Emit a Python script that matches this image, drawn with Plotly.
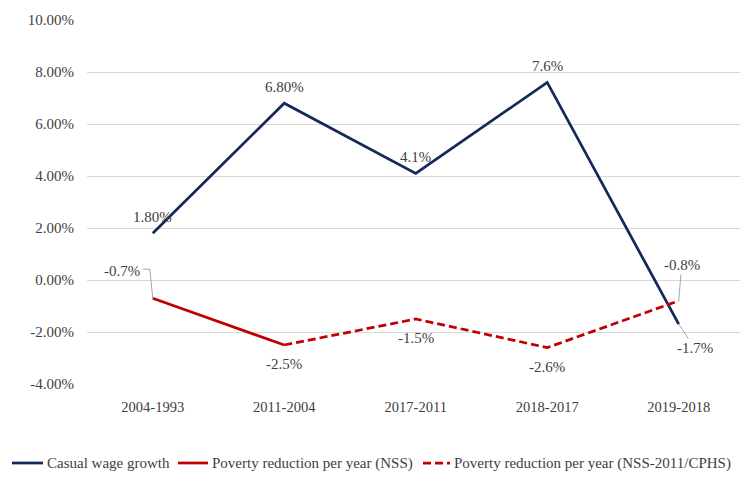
import plotly.graph_objects as go

# Periods compared on the horizontal axis
periods = ["2004-1993", "2011-2004", "2017-2011", "2018-2017", "2019-2018"]

# Annual rates, in percent
casual_wage_growth = [1.8, 6.8, 4.1, 7.6, -1.7]
wage_decimals = [2, 2, 1, 1, 1]
poverty_nss = [-0.7, -2.5, None, None, None]
poverty_cphs = [None, -2.5, -1.5, -2.6, -0.8]

series_names = ["Casual wage growth",
                "Poverty reduction per year (NSS)",
                "Poverty reduction per year (NSS-2011/CPHS)"]

y_ticks = [-4, -2, 0, 2, 4, 6, 8, 10]

NAVY = "#14285a"
RED = "#c00000"
TEXT = "#404040"
FONT = "Liberation Serif"
CPHS_DASH = "8px,4px"

W, H = 740, 500
ML, MR, MT, MB = 87, 0, 20, 116
PW, PH = W - ML - MR, H - MT - MB


def px_x(p):
    """Pixel column -> paper x."""
    return (p - ML) / PW


def px_y(p):
    """Pixel row -> paper y."""
    return (H - MB - p) / PH


fig = go.Figure()
fig.add_trace(go.Scatter(x=periods, y=casual_wage_growth, mode="lines",
                         name=series_names[0],
                         line=dict(color=NAVY, width=2.75)))
fig.add_trace(go.Scatter(x=periods, y=poverty_nss, mode="lines",
                         name=series_names[1],
                         line=dict(color=RED, width=2.75)))
fig.add_trace(go.Scatter(x=periods, y=poverty_cphs, mode="lines",
                         name=series_names[2],
                         line=dict(color=RED, width=2.75, dash=CPHS_DASH)))

lbl_font = dict(family=FONT, size=15, color=TEXT)
LEADER = "#a6a6a6"

# Wage-growth labels
for i, (p, v, d) in enumerate(zip(periods, casual_wage_growth, wage_decimals)):
    txt = f"{v:.{d}f}%"
    if i == len(periods) - 1:
        fig.add_annotation(x=p, y=v, text=txt, showarrow=True, arrowhead=0,
                           arrowwidth=1, arrowcolor=LEADER, ax=16, ay=24,
                           font=lbl_font)
    else:
        fig.add_annotation(x=p, y=v, text=txt, showarrow=False, yshift=16,
                           font=lbl_font)

# Poverty-reduction labels (the two series share the 2011-2004 point)
poverty_all = [a if a is not None else b for a, b in zip(poverty_nss, poverty_cphs)]
for i, (p, v) in enumerate(zip(periods, poverty_all)):
    txt = f"{v:.1f}%"
    if i == 0:
        # label up-left, joined to its point by an elbow leader
        fig.add_annotation(x=p, y=v, text=txt, showarrow=False,
                           xshift=-31, yshift=27, font=lbl_font)
        fig.add_shape(type="path", xref="x", yref="y",
                      xsizemode="pixel", ysizemode="pixel",
                      xanchor=p, yanchor=v,
                      path="M 0,0 L -3,29 L -10,29",
                      line=dict(color=LEADER, width=1))
    elif i == len(periods) - 1:
        fig.add_annotation(x=p, y=v, text=txt, showarrow=True, arrowhead=0,
                           arrowwidth=1, arrowcolor=LEADER, ax=3, ay=-36,
                           font=lbl_font)
    else:
        fig.add_annotation(x=p, y=v, text=txt, showarrow=False, yshift=-19,
                           font=lbl_font)

# Legend row along the bottom: key line + label for each series
legend_row = 463
legend_keys = [(12, 43, NAVY, "solid"), (178, 208, RED, "solid"),
               (423, 450, RED, CPHS_DASH)]
for (x0, x1, col, dash), name in zip(legend_keys, series_names):
    fig.add_shape(type="line", xref="paper", yref="paper",
                  x0=px_x(x0), x1=px_x(x1), y0=px_y(legend_row), y1=px_y(legend_row),
                  line=dict(color=col, width=2.75, dash=dash))
    fig.add_annotation(xref="paper", yref="paper", x=px_x(x1 + 2), y=px_y(legend_row),
                       xanchor="left", yanchor="middle", text=name,
                       showarrow=False, font=lbl_font)

fig.update_layout(
    width=W, height=H,
    margin=dict(l=ML, r=MR, t=MT, b=MB),
    paper_bgcolor="white", plot_bgcolor="white",
    font=dict(family=FONT, size=15, color=TEXT),
    showlegend=False,
    xaxis=dict(range=[-0.5, 4.466], showgrid=False, zeroline=False,
               showline=False, ticks="", tickfont=dict(size=14.5, color=TEXT),
               ticklabelstandoff=12, fixedrange=True),
    yaxis=dict(range=[-4, 10], tickvals=y_ticks,
               ticktext=[f"{t:.2f}%" for t in y_ticks],
               showgrid=True, gridcolor="#d9d9d9", gridwidth=1,
               zeroline=False, showline=False, ticks="",
               tickfont=dict(size=15, color=TEXT), ticklabelstandoff=12,
               fixedrange=True),
)

fig.write_html("out.html")
